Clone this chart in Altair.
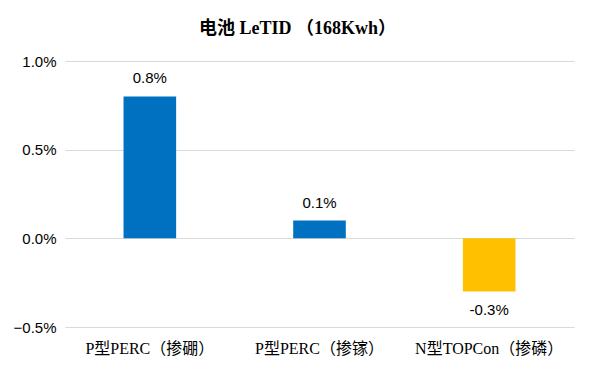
import altair as alt
import pandas as pd

categories = ["P型PERC（掺硼）", "P型PERC（掺镓）", "N型TOPCon（掺磷）"]
values = [0.008, 0.001, -0.003]
labels = ["0.8%", "0.1%", "-0.3%"]
colors = ["#0070C0", "#0070C0", "#FFC000"]

df = pd.DataFrame({"cat": categories, "val": values, "label": labels, "color": colors})

serif = "Liberation Serif, Noto Sans CJK SC"
sans = "Liberation Sans, Noto Sans CJK SC"

x = alt.X("cat:N", sort=categories, title=None,
          scale=alt.Scale(paddingInner=0.69, paddingOuter=0.345),
          axis=alt.Axis(labelAngle=0, labelFont=serif, labelFontSize=16, labelColor="#000000",
                        labelPadding=13, ticks=False, domain=False, grid=False))
y = alt.Y("val:Q", title=None,
          scale=alt.Scale(domain=[-0.005, 0.01], nice=False),
          axis=alt.Axis(values=[-0.005, 0, 0.005, 0.01], format=".1%", labelFont=sans,
                        labelFontSize=15, labelColor="#000000", labelPadding=9,
                        ticks=False, domain=False, gridColor="#D9D9D9", gridWidth=1))

base = alt.Chart(df)
bars = base.mark_bar().encode(x=x, y=y, color=alt.Color("color:N", scale=None))

pos = base.transform_filter("datum.val >= 0").mark_text(
    font=sans, fontSize=15, color="#000000", baseline="bottom", dy=-10
).encode(x=alt.X("cat:N", sort=categories), y="val:Q", text="label:N")
neg = base.transform_filter("datum.val < 0").mark_text(
    font=sans, fontSize=15, color="#000000", baseline="top", dy=11
).encode(x=alt.X("cat:N", sort=categories), y="val:Q", text="label:N")

chart = alt.layer(bars, pos, neg).properties(
    width=509, height=266,
    background="#FFFFFF",
    title=alt.TitleParams("电池 LeTID （168Kwh）", font=serif, fontSize=18, fontWeight="bold",
                          color="#000000", anchor="middle", dx=-22, offset=16),
    autosize=alt.AutoSizeParams(type="none"),
    padding={"left": 57, "top": 53, "right": 12, "bottom": 37},
).configure_view(stroke=None, strokeWidth=0)

chart.save("out.html", embed_options={"renderer": "svg", "actions": False})
